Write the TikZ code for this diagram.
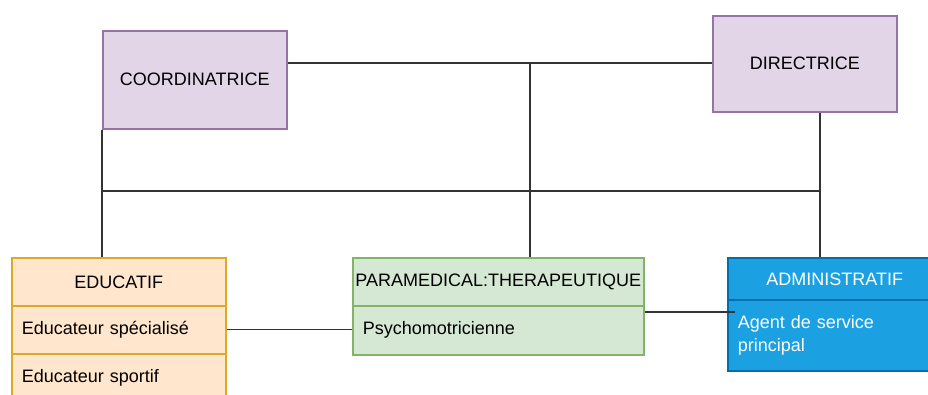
\documentclass[tikz,border=0pt]{standalone}
\usepackage{fontspec}
\setmainfont{Liberation Sans}
\definecolor{purfill}{HTML}{E1D5E7}
\definecolor{purline}{HTML}{9673A6}
\definecolor{orfill}{HTML}{FFE6CC}
\definecolor{orline}{HTML}{D79B00}
\definecolor{grfill}{HTML}{D5E8D4}
\definecolor{grline}{HTML}{82B366}
\definecolor{blfill}{HTML}{1BA1E2}
\definecolor{blline}{HTML}{006EAF}
\definecolor{edge}{HTML}{333333}
\begin{document}
\begin{tikzpicture}[x=1pt,y=-1pt,
  every node/.style={font=\fontsize{18}{23}\selectfont, inner sep=0pt, anchor=north west},
  purbox/.style={draw=purline, fill=purfill, line width=1.6pt, text=black},
  orbox/.style={draw=orline!85, fill=orfill, line width=1.6pt, text=black},
  grbox/.style={draw=grline, fill=grfill, line width=1.6pt, text=black},
  blbox/.style={draw=blline, fill=blfill, line width=1.6pt, text=white},
  rowtext/.style={align=left, inner xsep=10pt},
  conn/.style={draw=edge, line width=1.3pt}]
\clip (0,0) rectangle (928,394);
\fill[white] (0,0) rectangle (928,394);

% top boxes
\node[purbox, minimum width=184pt, minimum height=98pt] (coord) at (102,30) {COORDINATRICE};
\node[purbox, minimum width=184pt, minimum height=96pt] (dir) at (712,15) {DIRECTRICE};

% EDUCATIF
\node[orbox, minimum width=214pt, minimum height=48pt] (educh) at (11,257) {EDUCATIF};
\node[orbox, minimum width=214pt, minimum height=48pt, text width=194pt, rowtext] (educ1) at (11,305) {Educateur spécialisé};
\node[orbox, minimum width=214pt, minimum height=48pt, text width=194pt, rowtext] (educ2) at (11,353) {Educateur sportif};

% PARAMEDICAL
\node[grbox, minimum width=291pt, minimum height=48pt] (parah) at (352,257) {PARAMEDICAL:THERAPEUTIQUE};
\node[grbox, minimum width=291pt, minimum height=49pt, text width=271pt, rowtext] (para1) at (352,305) {Psychomotricienne};

% ADMINISTRATIF
\node[blbox, minimum width=214pt, minimum height=42pt] (admh) at (727,257) {ADMINISTRATIF};
\node[blbox, minimum width=214pt, minimum height=71pt, text width=194pt, rowtext] (adm1) at (727,299) {Agent de service\\principal};

% connectors
\coordinate (jtop) at (530,63);
\coordinate (jl) at (102,191);
\coordinate (jr) at (820,191);
\coordinate (admin_in) at (735,312);
\draw[conn] (coord.east |- jtop) -- (dir.west |- jtop);
\draw[conn] (jtop) -- (jtop |- parah.north);
\draw[conn] (coord.south west) -- (coord.south west |- educh.north);
\draw[conn] (jl) -- (jr);
\draw[conn] (jr |- dir.south) -- (jr |- admh.north);
\draw[conn] (educ1.east) -- (para1.west |- educ1.east);
\draw[conn] (parah.east |- admin_in) -- (admin_in);
\end{tikzpicture}
\end{document}
